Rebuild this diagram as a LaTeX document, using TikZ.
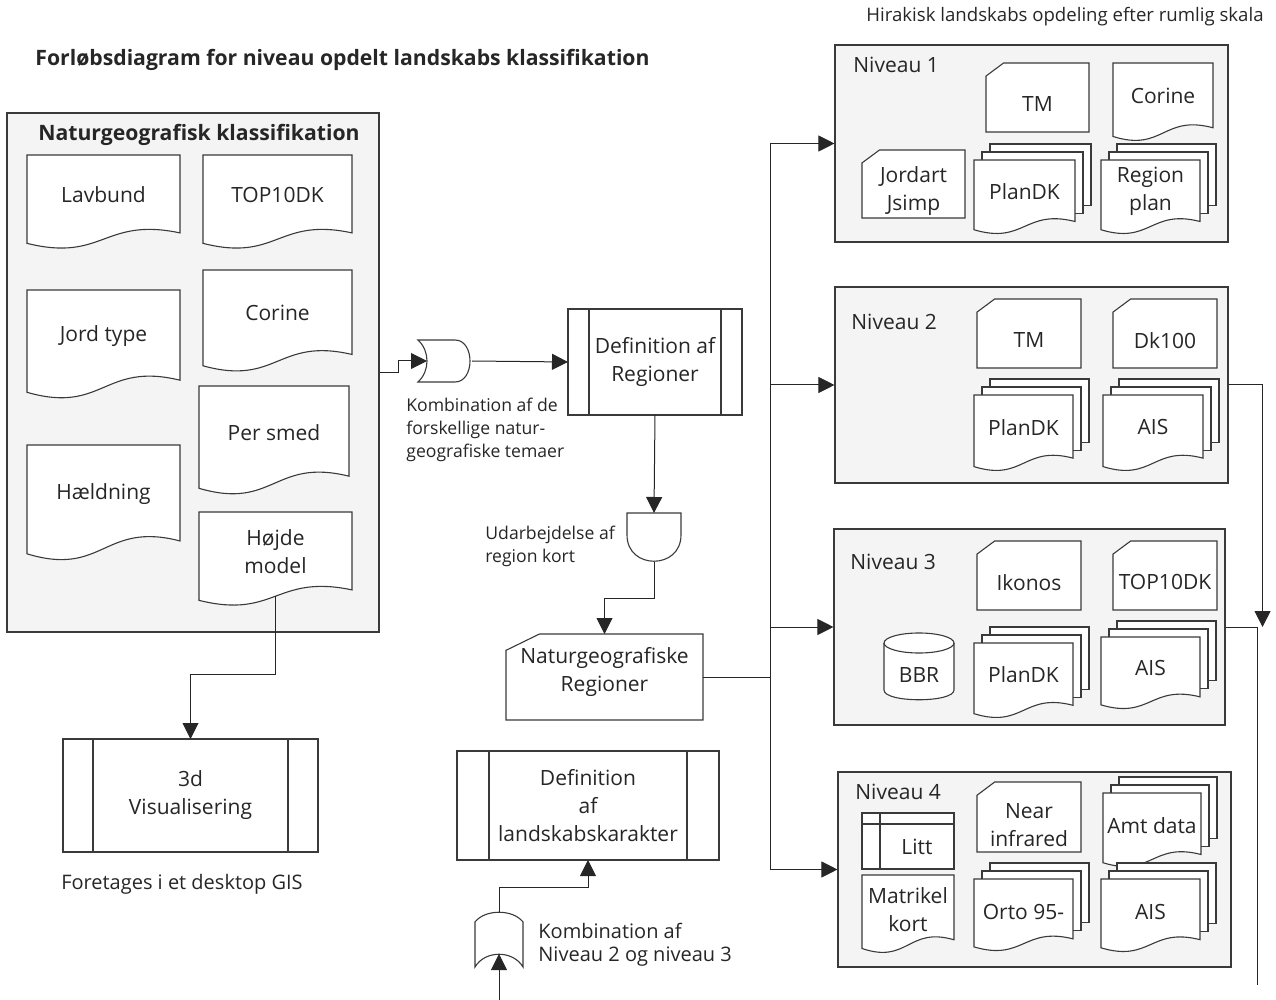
\documentclass[tikz,border=0pt]{standalone}
\usepackage{fontspec}
\setmainfont{Open Sans}
\usetikzlibrary{arrows.meta,calc}

\definecolor{edge}{HTML}{3A3A3A}
\definecolor{groupfill}{HTML}{F4F4F4}

\newcommand{\boxfont}{\fontsize{10.5}{14}\selectfont}
\newcommand{\notefont}{\fontsize{8.8}{11.4}\selectfont}
\newcommand{\bignotefont}{\fontsize{10}{11.6}\selectfont}
\newcommand{\headfont}{\fontsize{10.6}{13}\selectfont\bfseries}
\newcommand{\scalefont}{\fontsize{9.3}{11}\selectfont}

% document sheet with wavy bottom: [text pos]{name}{x}{y}{w}{h}{text}
\newcommand{\docshape}[7][0.42]{%
  \draw[sheet] (#3,#4) -- ({#3+#5},#4) -- ({#3+#5},{#4+0.82*#6})
    .. controls ({#3+0.5*#5},{#4+0.65*#6}) and ({#3+0.5*#5},{#4+1.13*#6})
    .. (#3,{#4+0.93*#6}) -- cycle;
  \node[txt] (#2) at ({#3+0.5*#5},{#4+#1*#6}) {#7};
  \coordinate (#2-b) at ({#3+0.5*#5},{#4+0.886*#6});
}
% stack of three sheets
\newcommand{\multidoc}[7][0.42]{%
  \foreach \k in {16,8}
    \draw[sheet] ({#3+\k},{#4-\k}) rectangle ({#3+#5+\k},{#4+0.82*#6-\k});
  \docshape[#1]{#2}{#3}{#4}{#5}{#6}{#7}
}
% manual input (cut corner)
\newcommand{\mandoc}[7][0.6]{%
  \draw[sheet] (#3,{#4+0.19*#6}) -- ({#3+0.17*#5},#4) -- ({#3+#5},#4)
    -- ({#3+#5},{#4+#6}) -- (#3,{#4+#6}) -- cycle;
  \node[hitbox, box size={#5}{#6}] (#2-box) at ({#3+0.5*#5},{#4+0.5*#6}) {};
  \node[txt] (#2) at ({#3+0.5*#5},{#4+#1*#6}) {#7};
}
% predefined process: {name}{x}{y}{w}{h}{inset}{text}
\newcommand{\subproc}[7]{%
  \node[proc, box size={#4}{#5}] (#1) at (#2,#3) {#7};
  \draw[sheet] ($(#1.north west)+(#6,0)$) -- ($(#1.south west)+(#6,0)$);
  \draw[sheet] ($(#1.north east)+(-#6,0)$) -- ($(#1.south east)+(-#6,0)$);
}

\begin{document}
\begin{tikzpicture}[x=0.5pt, y=-0.5pt,
  box size/.style 2 args={minimum width={#1*0.5pt}, minimum height={#2*0.5pt}},
  sheet/.style={draw=edge, fill=white, line width=0.55pt},
  groupbox/.style={draw=edge, fill=groupfill, line width=0.55pt, inner sep=0},
  hitbox/.style={inner sep=0, outer sep=0},
  txt/.style={font=\boxfont, align=center, inner sep=0, text=black!85},
  proc/.style={draw=edge, fill=white, line width=0.55pt, inner sep=0, outer sep=0,
    align=center, font=\boxfont, text=black!85},
  lbl/.style={anchor=west, inner sep=0, align=left, text=black!85},
  line/.style={draw=black!85, line width=0.5pt},
  flow/.style={line, -{Triangle[length=8pt,width=8pt]}}]

\useasboundingbox (0,0) rectangle (1276,1000);

\node[lbl, font=\headfont] (title) at (35,60)
  {Forløbsdiagram for niveau opdelt landskabs klassifikation};
\node[anchor=east, inner sep=0, font=\scalefont, text=black!85] (scale) at (1264,17)
  {Hirakisk landskabs opdeling efter rumlig skala};

% naturgeografisk klassifikation
\node[groupbox, box size={372}{519}] (klass) at (193,372.5) {};
\node[txt, font=\headfont] (klass-l) at (199,135) {Naturgeografisk klassifikation};
\docshape{lavbund}{27}{155}{153}{95}{Lavbund}
\docshape{topK}{203}{155}{149}{95}{TOP10DK}
\docshape{jordtype}{27}{290}{153}{110}{Jord type}
\docshape{corK}{203}{270}{149}{103}{Corine}
\docshape{persmed}{199}{386}{150}{110}{Per smed}
\docshape{haeld}{27}{445}{153}{117}{Hældning}
\docshape{hoejde}{199}{512}{153}{95}{Højde\\model}

% niveau 1
\node[groupbox, box size={393}{197}] (niv1) at (1031.5,143.5) {};
\node[lbl, font=\boxfont] (niv1-l) at (853,65) {Niveau 1};
\mandoc{tmA}{986}{63}{103}{69}{TM}
\docshape{corA}{1113}{63}{100}{79}{Corine}
\mandoc{jordart}{862}{150}{103}{68}{Jordart\\Jsimp}
\multidoc{planA}{974}{160}{101}{75}{PlanDK}
\multidoc{regplan}{1101}{160}{99}{75}{Region\\plan}

% niveau 2
\node[groupbox, box size={393}{196}] (niv2) at (1031.5,385) {};
\node[lbl, font=\boxfont] (niv2-l) at (851,322) {Niveau 2};
\mandoc{tmB}{977}{299}{104}{69}{TM}
\mandoc{dk100}{1113}{299}{104}{69}{Dk100}
\multidoc{planB}{974}{395}{99}{77}{PlanDK}
\multidoc{aisB}{1103}{395}{100}{77}{AIS}

% niveau 3
\node[groupbox, box size={391}{196}] (niv3) at (1029.5,627) {};
\node[lbl, font=\boxfont] (niv3-l) at (850,562) {Niveau 3};
\mandoc{ikonos}{977}{541}{104}{69}{Ikonos}
\mandoc{topC}{1113}{541}{104}{69}{TOP10DK}
\draw[sheet] (884,643) -- (884,690) .. controls (884,703) and (954,703) .. (954,690) -- (954,643);
\draw[sheet] (919,643) ellipse [x radius=35, y radius=10];
\node[txt] (bbr) at (919,675) {BBR};
\multidoc{planC}{974}{643}{99}{76}{PlanDK}
\multidoc{aisC}{1101}{637}{99}{73}{AIS}

% niveau 4
\node[groupbox, box size={393}{195}] (niv4) at (1034.5,869.5) {};
\node[lbl, font=\boxfont] (niv4-l) at (855,792) {Niveau 4};
\draw[sheet] (862,813) rectangle (954,869);
\draw[sheet] (862,824) -- (954,824) (880,813) -- (880,869);
\node[txt] (litt) at (917,847) {Litt};
\docshape[0.44]{matr}{862}{875}{92}{79}{Matrikel\\kort}
\mandoc[0.61]{nir}{977}{782}{104}{70}{Near\\infrared}
\multidoc[0.44]{amt}{1103}{793}{98}{75}{Amt data}
\multidoc[0.45]{orto}{974}{879}{99}{73}{Orto 95-}
\multidoc[0.45]{aisD}{1101}{879}{99}{74}{AIS}

% process steps
\node[hitbox, box size={54}{42}] (comb1) at (445,361) {};
\draw[sheet] (418,340) -- (455,340) .. controls (475,340) and (475,382) .. (455,382)
  -- (418,382) .. controls (430,371) and (430,351) .. (418,340) -- cycle;
\node[lbl, font=\notefont] (comb1-l) at (406,430)
  {Kombination af de\\forskellige natur-\\geografiske temaer};
\subproc{defreg}{655}{362}{174}{106}{21}{Definition af\\Regioner}

\node[hitbox, box size={54}{49}] (kort) at (654,537.5) {};
\draw[sheet] (627,513) -- (681,513) -- (681,535) .. controls (681,570) and (627,570) .. (627,535) -- cycle;
\node[lbl, font=\notefont] (kort-l) at (485,546) {Udarbejdelse af\\region kort};

\mandoc[0.44]{natreg}{506}{634}{197}{86}{Naturgeografiske\\Regioner}

\subproc{visual}{190.5}{795.5}{255}{113}{30}{3d\\Visualisering}
\node[txt, font=\bignotefont] (visual-l) at (182,884) {Foretages i et desktop GIS};

\subproc{deflands}{588}{805.5}{262}{109}{32}{Definition\\af\\landskabskarakter}
\node[hitbox, box size={48}{55}] (comb2) at (499,939.5) {};
\draw[sheet] (475,922) .. controls (485,909) and (513,909) .. (523,922) -- (523,967)
  .. controls (513,950) and (485,950) .. (475,967) -- cycle;
\node[lbl, font=\bignotefont] (comb2-l) at (538,944.5) {Kombination af\\Niveau 2 og niveau 3};

% connectors
\draw[flow] (klass.east) -- ++(19,0) |- ($(comb1.west)+(9,0)$);
\draw[flow] (comb1.east) -- (defreg.west);
\draw[flow] (defreg.south) -- (kort.north);
\draw[flow] (kort.south) -- ++(0,36) -| (natreg-box.north);
\draw[flow] (hoejde-b) -- ++(0,78) -| (visual.north);

\coordinate (trunk) at ($(natreg-box.east)+(67,0)$);
\draw[line] (natreg-box.east) -- (trunk);
\foreach \n in {niv1,niv2,niv3,niv4}
  \draw[flow] (trunk) |- (\n.west);

\coordinate (join) at ($(niv3.east)+(37,0)$);
\draw[flow] (niv2.east) -| (join);
\coordinate (outend) at ($(niv3.east)+(32,358)$);
\draw[line] (niv3.east) -| (outend);

\coordinate (inend) at ($(comb2.south)+(0,33)$);
\draw[flow] (inend) -- ($(comb2.south)+(0,-13)$);
\draw[flow] (comb2.north) -- ++(0,-25) -| (deflands.south);

\end{tikzpicture}
\end{document}
